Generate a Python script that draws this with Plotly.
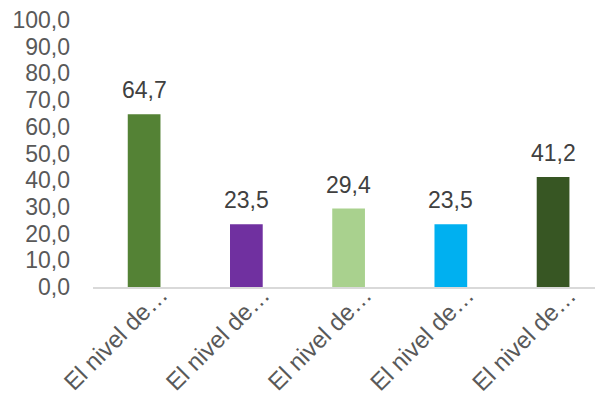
import plotly.graph_objects as go

# Category labels (truncated as displayed on the axis)
categories = ["El nivel de…", "El nivel de…", "El nivel de…", "El nivel de…", "El nivel de…"]
values = [64.7, 23.5, 29.4, 23.5, 41.2]
bar_colors = ["#548235", "#7030A0", "#A9D18E", "#00B0F0", "#375623"]
y_ticks = [0, 10, 20, 30, 40, 50, 60, 70, 80, 90, 100]

positions = list(range(len(categories)))
font_family = "Liberation Sans, Arial, sans-serif"
text_color = "#595959"


def fmt(v):
    return f"{v:.1f}".replace(".", ",")


fig = go.Figure(
    go.Bar(
        x=positions,
        y=values,
        width=0.32,
        marker=dict(color=bar_colors, line=dict(width=0)),
        hoverinfo="skip",
    )
)

# value labels above the bars
for x, v in zip(positions, values):
    fig.add_annotation(
        x=x, y=v, text=fmt(v), showarrow=False,
        yanchor="bottom", yshift=9,
        font=dict(family=font_family, size=23, color="#404040"),
    )

# rotated category labels under the axis
for x, label in zip(positions, categories):
    fig.add_annotation(
        x=x, y=0, text=label, showarrow=False, textangle=-45,
        xanchor="right", yanchor="top", xshift=31, yshift=9,
        font=dict(family=font_family, size=24, color=text_color),
    )

fig.update_layout(
    width=595,
    height=396,
    margin=dict(l=93, r=0, t=20, b=109),
    paper_bgcolor="white",
    plot_bgcolor="white",
    showlegend=False,
    font=dict(family=font_family, size=22, color=text_color),
    xaxis=dict(
        range=[-0.5, 4.41],
        showticklabels=False,
        showgrid=False,
        zeroline=False,
        showline=True,
        linecolor="#D9D9D9",
        linewidth=1.5,
        ticks="",
        automargin=False,
    ),
    yaxis=dict(
        range=[0, 100],
        tickmode="array",
        tickvals=y_ticks,
        ticktext=[fmt(t) for t in y_ticks],
        showgrid=False,
        zeroline=False,
        showline=False,
        ticks="",
        ticklabelstandoff=22,
        automargin=False,
        tickfont=dict(family=font_family, size=23, color=text_color),
    ),
)

fig.write_html("out.html")
